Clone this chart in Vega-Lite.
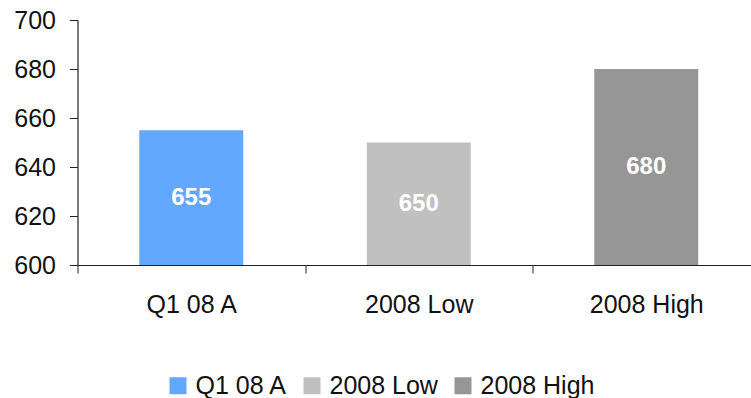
{
  "$schema": "https://vega.github.io/schema/vega-lite/v6.json",
  "width": 673.5,
  "height": 245,
  "autosize": "none",
  "padding": {"left": 77.5, "top": 20, "right": 0, "bottom": 133},
  "background": "white",
  "config": {
    "view": {"stroke": null},
    "font": "Liberation Sans",
    "axis": {"grid": false, "domainColor": "#222", "tickColor": "#222", "labelColor": "#111", "labelFont": "Liberation Sans", "labelFontSize": 25, "titleFontSize": 0}
  },
  "data": {
    "values": [
      {"category": "Q1 08 A", "value": 655},
      {"category": "2008 Low", "value": 650},
      {"category": "2008 High", "value": 680}
    ]
  },
  "layer": [
    {
      "mark": {"type": "bar", "width": {"band": 0.457}},
      "encoding": {
        "x": {
          "field": "category", "type": "nominal", "sort": null, "title": null,
          "scale": {"range": [0, 682.5], "paddingInner": 0, "paddingOuter": 0},
          "axis": {"labelAngle": 0, "tickBand": "extent", "tickSize": 8, "labelPadding": 19, "domainWidth": 1.2}
        },
        "y": {
          "field": "value", "type": "quantitative", "title": null,
          "scale": {"domain": [600, 700], "zero": false, "nice": false},
          "axis": {"values": [600, 620, 640, 660, 680, 700], "tickSize": 8, "labelPadding": 14, "domainWidth": 1.2}
        },
        "y2": {"datum": 600},
        "color": {
          "field": "category", "type": "nominal", "sort": null, "title": null,
          "scale": {"domain": ["Q1 08 A", "2008 Low", "2008 High"], "range": ["#62A8FF", "#C0C0C0", "#969696"]},
          "legend": {
            "orient": "none", "direction": "horizontal",
            "legendX": 88, "legendY": 353,
            "symbolType": "square", "symbolSize": 289, "symbolStrokeWidth": 0,
            "labelFontSize": 25, "labelFont": "Liberation Sans", "labelColor": "#111",
            "labelOffset": 5, "columnPadding": 12
          }
        }
      }
    },
    {
      "mark": {"type": "text", "color": "white", "fontWeight": "bold", "fontSize": 24, "baseline": "middle", "align": "center"},
      "encoding": {
        "x": {"field": "category", "type": "nominal", "sort": null},
        "y": {
          "field": "value", "type": "quantitative",
          "scale": {"domain": [600, 800], "zero": false, "nice": false},
          "axis": null
        },
        "text": {"field": "value", "type": "quantitative"}
      }
    }
  ],
  "resolve": {"scale": {"y": "independent"}}
}
